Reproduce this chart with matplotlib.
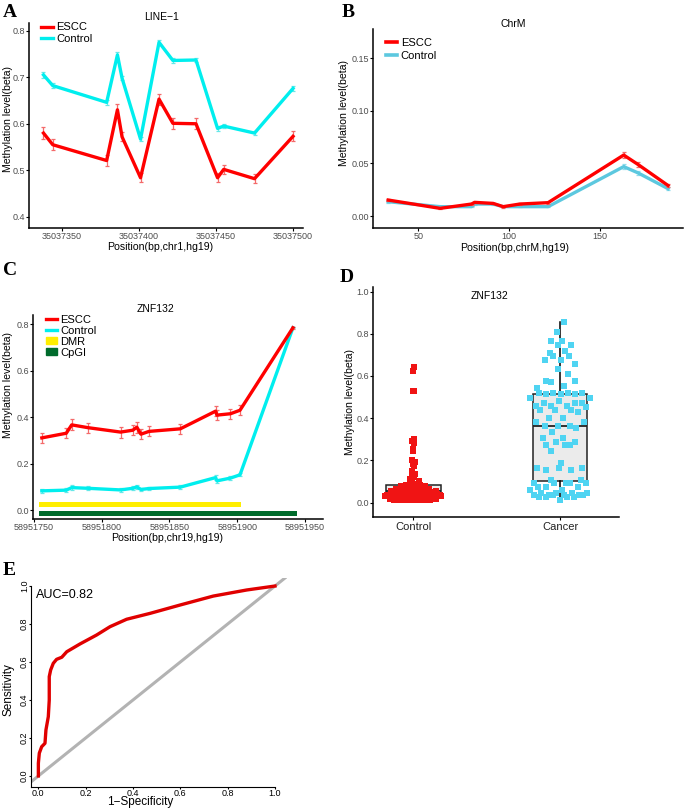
import numpy as np
import matplotlib
matplotlib.use("Agg")
import matplotlib.pyplot as plt
from matplotlib.lines import Line2D
from matplotlib.patches import Patch

plt.rcParams['font.family'] = ['Liberation Sans', 'DejaVu Sans']

# ---- panel A: LINE-1 ----
line1_pos = [35037338, 35037344, 35037379, 35037386, 35037389, 35037401, 35037413,
             35037422, 35037437, 35037451, 35037455, 35037475, 35037500]
line1_escc = [0.580, 0.555, 0.521, 0.630, 0.572, 0.484, 0.653, 0.601, 0.600, 0.484, 0.502, 0.482, 0.573]
line1_escc_err = [0.013, 0.012, 0.011, 0.012, 0.010, 0.010, 0.012, 0.012, 0.012, 0.010, 0.010, 0.009, 0.011]
line1_ctrl = [0.705, 0.682, 0.646, 0.748, 0.698, 0.567, 0.775, 0.736, 0.737, 0.590, 0.595, 0.580, 0.676]
line1_ctrl_err = [0.006, 0.005, 0.005, 0.006, 0.005, 0.005, 0.005, 0.005, 0.005, 0.005, 0.005, 0.004, 0.005]

# ---- panel B: ChrM ----
chrm_pos = [33.5, 62, 79.3, 81, 91.2, 96.7, 105.9, 121.4, 163, 170.9, 187.4]
chrm_escc = [0.0152, 0.0073, 0.0114, 0.0130, 0.0120, 0.0089, 0.0114, 0.0127, 0.058, 0.049, 0.029]
chrm_escc_err = [0.0012, 0.0008, 0.0008, 0.0008, 0.0008, 0.0008, 0.0008, 0.0008, 0.0030, 0.0025, 0.0015]
chrm_ctrl = [0.0136, 0.0089, 0.0089, 0.0114, 0.0114, 0.0089, 0.0089, 0.0089, 0.047, 0.041, 0.026]
chrm_ctrl_err = [0.0008, 0.0006, 0.0006, 0.0006, 0.0006, 0.0006, 0.0006, 0.0006, 0.0025, 0.0020, 0.0012]

# ---- panel C: ZNF132 ----
znf_pos = [58951756, 58951774, 58951778, 58951790, 58951814, 58951823, 58951826, 58951829,
           58951835, 58951858, 58951884, 58951885, 58951895, 58951902, 58951941]
znf_escc = [0.311, 0.331, 0.367, 0.355, 0.336, 0.344, 0.357, 0.327, 0.339, 0.350,
            0.426, 0.409, 0.415, 0.430, 0.785]
znf_escc_err = [0.022, 0.022, 0.024, 0.022, 0.024, 0.022, 0.024, 0.022, 0.022, 0.022,
                0.022, 0.020, 0.022, 0.022, 0.004]
znf_ctrl = [0.083, 0.086, 0.097, 0.094, 0.087, 0.094, 0.100, 0.089, 0.093, 0.099,
            0.140, 0.126, 0.138, 0.152, 0.785]
znf_ctrl_err = [0.008, 0.008, 0.010, 0.008, 0.008, 0.008, 0.008, 0.008, 0.008, 0.008,
                0.010, 0.008, 0.008, 0.006, 0.003]
dmr_range = [58951754, 58951903]
cpgi_range = [58951754, 58951944]

# ---- panel D: ZNF132 boxplot ----
groups = ["Control", "Cancer"]
ctrl_vals = [0.640, 0.625, 0.531, 0.529, 0.300, 0.290, 0.280, 0.255, 0.245, 0.200, 0.190,
             0.185, 0.175, 0.150, 0.135, 0.125, 0.120, 0.110, 0.100, 0.095, 0.090,
             0.012, 0.012, 0.012, 0.012, 0.012, 0.012, 0.012, 0.012,
             0.018, 0.018, 0.018, 0.018, 0.018, 0.018, 0.018, 0.018, 0.018, 0.018,
             0.024, 0.024, 0.024, 0.024, 0.024, 0.024, 0.024, 0.024, 0.024, 0.024, 0.024, 0.024,
             0.030, 0.030, 0.030, 0.030, 0.030, 0.030, 0.030, 0.030, 0.030, 0.030,
             0.036, 0.036, 0.036, 0.036, 0.036, 0.036, 0.036, 0.036,
             0.042, 0.042, 0.042, 0.042, 0.042, 0.042, 0.042,
             0.048, 0.048, 0.048, 0.048, 0.048, 0.048,
             0.055, 0.055, 0.055, 0.055, 0.055, 0.055,
             0.062, 0.062, 0.062, 0.062, 0.062,
             0.070, 0.070, 0.070, 0.070, 0.070,
             0.078, 0.078, 0.078, 0.078, 0.085, 0.085, 0.085]
cancer_vals = [0.855, 0.807, 0.765, 0.765, 0.747, 0.747, 0.708, 0.716, 0.695, 0.695,
               0.676, 0.676, 0.656, 0.633, 0.610, 0.577, 0.569, 0.575, 0.553, 0.542,
               0.521, 0.521, 0.521, 0.521, 0.513, 0.513, 0.513, 0.494, 0.494, 0.482,
               0.471, 0.471, 0.471, 0.458, 0.458, 0.458, 0.452, 0.439, 0.439, 0.439,
               0.427, 0.400, 0.400, 0.384, 0.384, 0.363, 0.363, 0.363, 0.352, 0.333,
               0.308, 0.308, 0.289, 0.289, 0.275, 0.275, 0.275, 0.245, 0.186, 0.163,
               0.163, 0.163, 0.155, 0.155, 0.107, 0.107, 0.095, 0.095, 0.095, 0.095,
               0.095, 0.076, 0.076, 0.076, 0.060, 0.060, 0.047, 0.047, 0.047, 0.047,
               0.036, 0.036, 0.036, 0.036, 0.036, 0.036, 0.024, 0.024, 0.024, 0.024, 0.013]
# box statistics: whislo, q1, med, q3, whishi
box_ctrl = [0.012, 0.044, 0.055, 0.084, 0.140]
box_cancer = [0.013, 0.100, 0.365, 0.513, 0.855]

# ---- panel E: ROC ----
roc_fpr = [0.0, 0.0, 0.004, 0.014, 0.028, 0.032, 0.042, 0.046, 0.046, 0.052, 0.063,
           0.077, 0.099, 0.12, 0.176, 0.246, 0.303, 0.373, 0.472, 0.599, 0.739, 0.88, 1.0]
roc_tpr = [0.0, 0.067, 0.12, 0.154, 0.172, 0.242, 0.312, 0.40, 0.523, 0.558, 0.593,
           0.614, 0.625, 0.654, 0.695, 0.742, 0.786, 0.825, 0.856, 0.90, 0.947, 0.979, 1.0]

RED = '#ff0000'
CYAN = '#00eeee'
ERR_RED = '#f46a6a'
ERR_CYAN = '#66e8e8'
TICK_COLOR = '#4d4d4d'
LAB = 7.6   # axis label size
LEG = 8.0   # legend text size


def vdc(n, base=2):
    v, denom = 0.0, 1.0
    while n:
        n, r = divmod(n, base)
        denom *= base
        v += r / denom
    return v


def quasi_offsets(vals, width, bw):
    vals = np.asarray(vals)
    dens = np.array([np.exp(-0.5 * ((v - vals) / bw) ** 2).sum() for v in vals])
    dens = dens / dens.max()
    offs = np.zeros(len(vals))
    for rank, i in enumerate(np.argsort(vals)):
        offs[i] = (vdc(rank + 1) * 2 - 1) * dens[i] * width
    return offs


def style_gg(ax):
    for s in ['top', 'right']:
        ax.spines[s].set_visible(False)
    for s in ['left', 'bottom']:
        ax.spines[s].set_linewidth(1.1)
    ax.tick_params(labelsize=6.5, colors='black', labelcolor=TICK_COLOR, length=2, width=0.8, pad=1)


def line_panel(ax, pos, escc, escc_err, ctrl, ctrl_err, ctrl_color, ctrl_err_color):
    ax.errorbar(pos, ctrl, yerr=ctrl_err, color=ctrl_color, lw=2.4, ecolor=ctrl_err_color,
                elinewidth=0.9, capsize=1.6, capthick=0.9, zorder=2)
    ax.errorbar(pos, escc, yerr=escc_err, color=RED, lw=2.4, ecolor=ERR_RED,
                elinewidth=0.9, capsize=1.6, capthick=0.9, zorder=3)


def place_labels(ax, xl, yl):
    # label anchor positions in axes coordinates
    ax.xaxis.set_label_coords(*xl)
    ax.yaxis.set_label_coords(*yl)


fig = plt.figure(figsize=(6.85, 8.1), dpi=100)

# A
axA = fig.add_axes([0.0428, 0.7185, 0.3996, 0.2531])
line_panel(axA, line1_pos, line1_escc, line1_escc_err, line1_ctrl, line1_ctrl_err, CYAN, ERR_CYAN)
axA.set_xlim(35037328.8, 35037506.5)
axA.set_ylim(0.376, 0.8165)
axA.set_xticks([35037350, 35037400, 35037450, 35037500])
axA.set_yticks([0.4, 0.5, 0.6, 0.7, 0.8])
axA.ticklabel_format(useOffset=False, style='plain', axis='x')
style_gg(axA)
axA.set_xlabel("Position(bp,chr1,hg19)", fontsize=LAB)
axA.set_ylabel("Methylation level(beta)", fontsize=LAB)
place_labels(axA, (0.4775, -0.068), (-0.058, 0.53))
axA.set_title("LINE\u22121", fontsize=7.5, pad=2, x=0.484)
axA.legend(handles=[Line2D([], [], color=RED, lw=2.4), Line2D([], [], color=CYAN, lw=2.4)],
           labels=["ESCC", "Control"], loc='upper left', bbox_to_anchor=(0.02, 1.035),
           frameon=False, fontsize=LEG, handlelength=1.0, handletextpad=0.3, labelspacing=0.15,
           borderaxespad=0.2)

# B
axB = fig.add_axes([0.545, 0.7189, 0.4526, 0.2449])
B_CTRL = '#5cc8df'
line_panel(axB, chrm_pos, chrm_escc, chrm_escc_err, chrm_ctrl, chrm_ctrl_err, B_CTRL, '#8fdcec')
axB.set_xlim(25.3, 195.8)
axB.set_ylim(-0.0111, 0.1776)
axB.set_xticks([50, 100, 150])
axB.set_yticks([0.0, 0.05, 0.10, 0.15])
axB.set_yticklabels(["0.00", "0.05", "0.10", "0.15"])
style_gg(axB)
axB.set_xlabel("Position(bp,chrM,hg19)", fontsize=LAB)
axB.set_ylabel("Methylation level(beta)", fontsize=LAB)
place_labels(axB, (0.457, -0.075), (-0.08, 0.577))
axB.set_title("ChrM", fontsize=7.5, pad=2, x=0.45)
axB.legend(handles=[Line2D([], [], color=RED, lw=2.6), Line2D([], [], color=B_CTRL, lw=2.6)],
           labels=["ESCC", "Control"], loc='upper left', bbox_to_anchor=(0.02, 0.99),
           frameon=False, fontsize=LEG, handlelength=1.0, handletextpad=0.3, labelspacing=0.3,
           borderaxespad=0.2)

# C
axC = fig.add_axes([0.0486, 0.3596, 0.4234, 0.2515])
line_panel(axC, znf_pos, znf_escc, znf_escc_err, znf_ctrl, znf_ctrl_err, CYAN, ERR_CYAN)
axC.barh(0.025, dmr_range[1] - dmr_range[0], left=dmr_range[0], height=0.024, color='#ffee00')
axC.barh(-0.015, cpgi_range[1] - cpgi_range[0], left=cpgi_range[0], height=0.024, color='#006b2c')
axC.set_xlim(58951749.7, 58951963.4)
axC.set_ylim(-0.037, 0.84)
axC.set_xticks([58951750, 58951800, 58951850, 58951900, 58951950])
axC.set_yticks([0.0, 0.2, 0.4, 0.6, 0.8])
axC.ticklabel_format(useOffset=False, style='plain', axis='x')
style_gg(axC)
axC.set_xlabel("Position(bp,chr19,hg19)", fontsize=LAB)
axC.set_ylabel("Methylation level(beta)", fontsize=LAB)
place_labels(axC, (0.46, -0.072), (-0.07, 0.656))
axC.set_title("ZNF132", fontsize=7.5, pad=2, x=0.42)
axC.legend(handles=[Line2D([], [], color=RED, lw=2.4), Line2D([], [], color=CYAN, lw=2.4),
                    Patch(color='#ffee00'), Patch(color='#006b2c')],
           labels=["ESCC", "Control", "DMR", "CpGI"], loc='upper left', bbox_to_anchor=(0.02, 1.035),
           frameon=False, fontsize=LEG, handlelength=1.0, handleheight=0.6, handletextpad=0.3,
           labelspacing=0.1, borderaxespad=0.2)

# D
axD = fig.add_axes([0.545, 0.3621, 0.3591, 0.2832])
stats = []
for name, b in zip(groups, [box_ctrl, box_cancer]):
    stats.append(dict(label=name, whislo=b[0], q1=b[1], med=b[2], q3=b[3], whishi=b[4], fliers=[]))
axD.bxp(stats, positions=[1, 2], widths=0.37, patch_artist=True, showcaps=False,
        boxprops=dict(facecolor='#ebebeb', edgecolor='#222222', lw=1.1),
        medianprops=dict(color='#222222', lw=1.3),
        whiskerprops=dict(color='black', lw=1.1), zorder=1)
off_c = quasi_offsets(ctrl_vals, 0.2, 0.02)
off_k = quasi_offsets(cancer_vals, 0.22, 0.08)
axD.scatter(1 + off_c, ctrl_vals, marker='s', s=14, color='#f01414', lw=0, zorder=3)
axD.scatter(2 + off_k, cancer_vals, marker='s', s=14, color='#4fd4f2', lw=0, zorder=3)
axD.set_xlim(0.727, 2.404)
axD.set_ylim(-0.067, 1.02)
axD.set_xticks([1, 2])
axD.set_xticklabels(groups)
axD.set_yticks([0.0, 0.2, 0.4, 0.6, 0.8, 1.0])
style_gg(axD)
axD.tick_params(axis='x', labelsize=8, labelcolor='#222222', pad=2)
axD.set_ylabel("Methylation level(beta)", fontsize=LAB)
axD.yaxis.set_label_coords(-0.076, 0.5)
axD.text(0.474, 0.962, "ZNF132", fontsize=7.5, ha='center', va='center', transform=axD.transAxes)

# E
axE = fig.add_axes([0.0453, 0.0289, 0.3734, 0.257])
axE.plot([-0.1, 1.2], [-0.1, 1.2], color='#b3b3b3', lw=2.2, zorder=1)
axE.plot(roc_fpr, roc_tpr, color='#e00000', lw=2.4, zorder=2)
axE.set_xlim(-0.031, 1.05)
axE.set_ylim(-0.056, 1.04)
for s in ['top', 'right']:
    axE.spines[s].set_visible(False)
axE.spines['left'].set_bounds(-0.056, 1.0)
axE.spines['bottom'].set_bounds(-0.031, 1.0)
axE.set_xticks([0.0, 0.2, 0.4, 0.6, 0.8, 1.0])
axE.set_yticks([0.0, 0.2, 0.4, 0.6, 0.8, 1.0])
axE.tick_params(labelsize=6.5, length=1.5, width=0.8, pad=0)
plt.setp(axE.get_yticklabels(), rotation=90, va='center')
axE.set_xlabel("1\u2212Specificity", fontsize=8.5)
axE.set_ylabel("Sensitivity", fontsize=8.5)
place_labels(axE, (0.426, -0.047), (-0.065, 0.464))
axE.text(-0.012, 0.955, "AUC=0.82", fontsize=9, va='center', ha='left')

# panel letters
for letter, x, y in [("A", 3, 4), ("B", 342, 4), ("C", 3, 262), ("D", 340, 269), ("E", 3, 562)]:
    fig.text(x / 685, 1 - y / 810, letter, fontsize=14, fontweight='bold',
             family='Liberation Serif', va='top', ha='left')

fig.savefig("out.png", dpi=100)
